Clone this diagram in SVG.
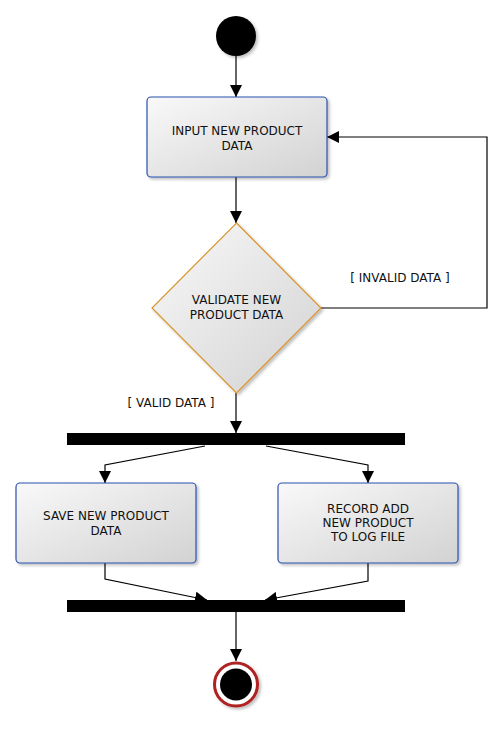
<svg xmlns="http://www.w3.org/2000/svg" width="502" height="730" viewBox="0 0 502 730">
<defs>
<linearGradient id="g" x1="0" y1="0" x2="1" y2="1">
<stop offset="0" stop-color="#f9f9f9"/>
<stop offset="1" stop-color="#d2d2d2"/>
</linearGradient>
<filter id="sh" x="-10%" y="-10%" width="130%" height="130%">
<feDropShadow dx="2" dy="2" stdDeviation="1.5" flood-color="#000" flood-opacity="0.25"/>
</filter>
<marker id="ah" markerWidth="12" markerHeight="12" viewBox="0 0 12 12" refX="12" refY="6" orient="auto" markerUnits="userSpaceOnUse">
<path d="M0,0 L12,6 L0,12 Z" fill="#000"/>
</marker>
</defs>
<style>
.act{fill:url(#g);stroke:#2a52b0;stroke-width:1.2;filter:url(#sh)}
.dec{fill:url(#g);stroke:#d9952b;stroke-width:1.2;filter:url(#sh)}
.bar{fill:#000}
.t{font-family:"DejaVu Sans",Verdana,sans-serif;font-size:12px;fill:#111;text-anchor:middle}
.c{fill:none;stroke:#000;stroke-width:1.2;marker-end:url(#ah)}
</style>
<g id="connectors">
<path class="c" d="M236,56 L236,97"/>
<path class="c" d="M236,177 L236,223"/>
<path class="c" d="M321,308 L487,308 L487,137 L327,137"/>
<path class="c" d="M236,393 L236,433"/>
<path class="c" d="M205,446 L105,465 L105,483"/>
<path class="c" d="M266,446 L368,465 L368,483"/>
<path class="c" d="M105,563 L105,579 L207,600"/>
<path class="c" d="M368,563 L368,581 L265,600"/>
<path class="c" d="M236,612 L236,661"/>
<text class="t" x="400" y="282">[ INVALID DATA ]</text>
<text class="t" x="171" y="407">[ VALID DATA ]</text>
</g>
<g id="start">
<circle cx="236" cy="36" r="20" fill="#000" filter="url(#sh)"/>
</g>
<g id="input">
<rect class="act" x="147" y="97" width="180" height="80" rx="4"/>
<text class="t" x="237" y="135">INPUT NEW PRODUCT</text>
<text class="t" x="237" y="150">DATA</text>
</g>
<g id="validate">
<path class="dec" d="M236.5,223 L321,308 L236.5,393 L152,308 Z"/>
<text class="t" x="236.5" y="304">VALIDATE NEW</text>
<text class="t" x="236.5" y="319">PRODUCT DATA</text>
</g>
<g id="fork">
<rect class="bar" x="67" y="433" width="338" height="12"/>
</g>
<g id="save">
<rect class="act" x="16" y="483" width="180" height="80" rx="4"/>
<text class="t" x="106" y="520">SAVE NEW PRODUCT</text>
<text class="t" x="106" y="535">DATA</text>
</g>
<g id="record">
<rect class="act" x="278" y="483" width="180" height="80" rx="4"/>
<text class="t" x="368" y="513">RECORD ADD</text>
<text class="t" x="368" y="527">NEW PRODUCT</text>
<text class="t" x="368" y="541">TO LOG FILE</text>
</g>
<g id="join">
<rect class="bar" x="67" y="600" width="338" height="12"/>
</g>
<g id="end">
<circle cx="236" cy="684.5" r="21.5" fill="#fff" stroke="#b02020" stroke-width="3" filter="url(#sh)"/>
<circle cx="236" cy="684.5" r="16" fill="#000"/>
</g>
</svg>
